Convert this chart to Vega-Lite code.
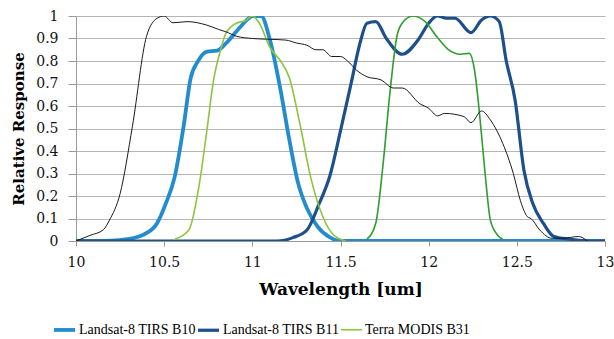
{
  "$schema": "https://vega.github.io/schema/vega-lite/v6.json",
  "width": 529,
  "height": 225,
  "autosize": "none",
  "padding": {"left": 76, "top": 16, "right": 9, "bottom": 98},
  "background": "white",
  "config": {"view": {"stroke": null}, "font": "DejaVu Serif"},
  "data": {"values": [
    {"s":"Landsat-8 TIRS B10","x":10.0,"y":0},{"s":"Landsat-8 TIRS B10","x":10.2,"y":0.002},{"s":"Landsat-8 TIRS B10","x":10.29,"y":0.008},{"s":"Landsat-8 TIRS B10","x":10.38,"y":0.027},{"s":"Landsat-8 TIRS B10","x":10.46,"y":0.079},{"s":"Landsat-8 TIRS B10","x":10.51,"y":0.168},{"s":"Landsat-8 TIRS B10","x":10.56,"y":0.286},{"s":"Landsat-8 TIRS B10","x":10.61,"y":0.508},{"s":"Landsat-8 TIRS B10","x":10.65,"y":0.723},{"s":"Landsat-8 TIRS B10","x":10.69,"y":0.797},{"s":"Landsat-8 TIRS B10","x":10.74,"y":0.841},{"s":"Landsat-8 TIRS B10","x":10.8,"y":0.846},{"s":"Landsat-8 TIRS B10","x":10.85,"y":0.878},{"s":"Landsat-8 TIRS B10","x":10.93,"y":0.95},{"s":"Landsat-8 TIRS B10","x":10.98,"y":0.99},{"s":"Landsat-8 TIRS B10","x":11.0,"y":1.0},{"s":"Landsat-8 TIRS B10","x":11.05,"y":1.0},{"s":"Landsat-8 TIRS B10","x":11.1,"y":0.893},{"s":"Landsat-8 TIRS B10","x":11.16,"y":0.671},{"s":"Landsat-8 TIRS B10","x":11.21,"y":0.449},{"s":"Landsat-8 TIRS B10","x":11.26,"y":0.256},{"s":"Landsat-8 TIRS B10","x":11.31,"y":0.145},{"s":"Landsat-8 TIRS B10","x":11.37,"y":0.064},{"s":"Landsat-8 TIRS B10","x":11.44,"y":0.016},{"s":"Landsat-8 TIRS B10","x":11.5,"y":0},{"s":"Landsat-8 TIRS B10","x":12.0,"y":0},{"s":"Landsat-8 TIRS B10","x":12.5,"y":0},{"s":"Landsat-8 TIRS B10","x":13.0,"y":0},
    {"s":"Landsat-8 TIRS B11","x":10.0,"y":0},{"s":"Landsat-8 TIRS B11","x":10.5,"y":0},{"s":"Landsat-8 TIRS B11","x":11.0,"y":0},{"s":"Landsat-8 TIRS B11","x":11.14,"y":0},{"s":"Landsat-8 TIRS B11","x":11.23,"y":0.015},{"s":"Landsat-8 TIRS B11","x":11.31,"y":0.049},{"s":"Landsat-8 TIRS B11","x":11.38,"y":0.168},{"s":"Landsat-8 TIRS B11","x":11.44,"y":0.29},{"s":"Landsat-8 TIRS B11","x":11.5,"y":0.49},{"s":"Landsat-8 TIRS B11","x":11.56,"y":0.7},{"s":"Landsat-8 TIRS B11","x":11.61,"y":0.878},{"s":"Landsat-8 TIRS B11","x":11.65,"y":0.968},{"s":"Landsat-8 TIRS B11","x":11.7,"y":0.975},{"s":"Landsat-8 TIRS B11","x":11.76,"y":0.9},{"s":"Landsat-8 TIRS B11","x":11.85,"y":0.83},{"s":"Landsat-8 TIRS B11","x":11.94,"y":0.893},{"s":"Landsat-8 TIRS B11","x":12.0,"y":0.968},{"s":"Landsat-8 TIRS B11","x":12.05,"y":1.0},{"s":"Landsat-8 TIRS B11","x":12.1,"y":0.99},{"s":"Landsat-8 TIRS B11","x":12.15,"y":0.99},{"s":"Landsat-8 TIRS B11","x":12.24,"y":0.926},{"s":"Landsat-8 TIRS B11","x":12.3,"y":0.982},{"s":"Landsat-8 TIRS B11","x":12.35,"y":1.0},{"s":"Landsat-8 TIRS B11","x":12.4,"y":0.975},{"s":"Landsat-8 TIRS B11","x":12.44,"y":0.8},{"s":"Landsat-8 TIRS B11","x":12.49,"y":0.627},{"s":"Landsat-8 TIRS B11","x":12.54,"y":0.316},{"s":"Landsat-8 TIRS B11","x":12.59,"y":0.168},{"s":"Landsat-8 TIRS B11","x":12.65,"y":0.079},{"s":"Landsat-8 TIRS B11","x":12.71,"y":0.02},{"s":"Landsat-8 TIRS B11","x":12.8,"y":0.008},{"s":"Landsat-8 TIRS B11","x":12.9,"y":0},{"s":"Landsat-8 TIRS B11","x":13.0,"y":0},
    {"s":"Terra MODIS B31","x":10.56,"y":0.008},{"s":"Terra MODIS B31","x":10.64,"y":0.049},{"s":"Terra MODIS B31","x":10.7,"y":0.256},{"s":"Terra MODIS B31","x":10.74,"y":0.478},{"s":"Terra MODIS B31","x":10.78,"y":0.714},{"s":"Terra MODIS B31","x":10.82,"y":0.849},{"s":"Terra MODIS B31","x":10.85,"y":0.923},{"s":"Terra MODIS B31","x":10.91,"y":0.968},{"s":"Terra MODIS B31","x":10.96,"y":0.979},{"s":"Terra MODIS B31","x":11.0,"y":1.0},{"s":"Terra MODIS B31","x":11.04,"y":0.968},{"s":"Terra MODIS B31","x":11.1,"y":0.86},{"s":"Terra MODIS B31","x":11.16,"y":0.8},{"s":"Terra MODIS B31","x":11.21,"y":0.726},{"s":"Terra MODIS B31","x":11.27,"y":0.52},{"s":"Terra MODIS B31","x":11.33,"y":0.286},{"s":"Terra MODIS B31","x":11.4,"y":0.108},{"s":"Terra MODIS B31","x":11.46,"y":0.027},{"s":"Terra MODIS B31","x":11.53,"y":0},
    {"s":"Terra MODIS B32","x":11.65,"y":0.008},{"s":"Terra MODIS B32","x":11.7,"y":0.079},{"s":"Terra MODIS B32","x":11.74,"y":0.33},{"s":"Terra MODIS B32","x":11.78,"y":0.656},{"s":"Terra MODIS B32","x":11.82,"y":0.91},{"s":"Terra MODIS B32","x":11.85,"y":0.968},{"s":"Terra MODIS B32","x":11.91,"y":1.0},{"s":"Terra MODIS B32","x":11.98,"y":0.975},{"s":"Terra MODIS B32","x":12.05,"y":0.904},{"s":"Terra MODIS B32","x":12.11,"y":0.852},{"s":"Terra MODIS B32","x":12.18,"y":0.83},{"s":"Terra MODIS B32","x":12.23,"y":0.834},{"s":"Terra MODIS B32","x":12.26,"y":0.76},{"s":"Terra MODIS B32","x":12.29,"y":0.553},{"s":"Terra MODIS B32","x":12.32,"y":0.3},{"s":"Terra MODIS B32","x":12.35,"y":0.093},{"s":"Terra MODIS B32","x":12.39,"y":0.027},{"s":"Terra MODIS B32","x":12.42,"y":0.008},
    {"s":"Transmittance","x":10.0,"y":0},{"s":"Transmittance","x":10.08,"y":0.025},{"s":"Transmittance","x":10.155,"y":0.05},{"s":"Transmittance","x":10.19,"y":0.093},{"s":"Transmittance","x":10.25,"y":0.21},{"s":"Transmittance","x":10.32,"y":0.51},{"s":"Transmittance","x":10.4,"y":0.91},{"s":"Transmittance","x":10.46,"y":0.99},{"s":"Transmittance","x":10.5,"y":1.0},{"s":"Transmittance","x":10.55,"y":0.97},{"s":"Transmittance","x":10.63,"y":0.975},{"s":"Transmittance","x":10.74,"y":0.96},{"s":"Transmittance","x":10.81,"y":0.94},{"s":"Transmittance","x":10.85,"y":0.93},{"s":"Transmittance","x":10.91,"y":0.91},{"s":"Transmittance","x":11.0,"y":0.9},{"s":"Transmittance","x":11.08,"y":0.897},{"s":"Transmittance","x":11.19,"y":0.893},{"s":"Transmittance","x":11.25,"y":0.88},{"s":"Transmittance","x":11.31,"y":0.87},{"s":"Transmittance","x":11.36,"y":0.85},{"s":"Transmittance","x":11.4,"y":0.85},{"s":"Transmittance","x":11.45,"y":0.82},{"s":"Transmittance","x":11.5,"y":0.82},{"s":"Transmittance","x":11.54,"y":0.8},{"s":"Transmittance","x":11.59,"y":0.76},{"s":"Transmittance","x":11.65,"y":0.73},{"s":"Transmittance","x":11.73,"y":0.716},{"s":"Transmittance","x":11.8,"y":0.68},{"s":"Transmittance","x":11.85,"y":0.68},{"s":"Transmittance","x":11.95,"y":0.61},{"s":"Transmittance","x":12.0,"y":0.59},{"s":"Transmittance","x":12.05,"y":0.556},{"s":"Transmittance","x":12.09,"y":0.567},{"s":"Transmittance","x":12.2,"y":0.553},{"s":"Transmittance","x":12.24,"y":0.526},{"s":"Transmittance","x":12.3,"y":0.578},{"s":"Transmittance","x":12.35,"y":0.538},{"s":"Transmittance","x":12.42,"y":0.434},{"s":"Transmittance","x":12.48,"y":0.3},{"s":"Transmittance","x":12.52,"y":0.18},{"s":"Transmittance","x":12.56,"y":0.108},{"s":"Transmittance","x":12.58,"y":0.1},{"s":"Transmittance","x":12.63,"y":0.049},{"s":"Transmittance","x":12.7,"y":0.012},{"s":"Transmittance","x":12.76,"y":0.012},{"s":"Transmittance","x":12.85,"y":0.02},{"s":"Transmittance","x":12.9,"y":0}
  ]},
  "mark": {"type": "line", "interpolate": "monotone", "clip": true},
  "encoding": {
    "x": {"field": "x", "type": "quantitative",
      "scale": {"domain": [10, 13], "nice": false, "zero": false},
      "axis": {"values": [10, 10.5, 11, 11.5, 12, 12.5, 13], "format": "~g", "grid": false,
        "title": "Wavelength [um]", "titleFont": "DejaVu Serif", "titleFontSize": 17, "titleFontWeight": "bold", "titleColor": "#000", "titlePadding": 12,
        "labelFontSize": 14, "labelFont": "DejaVu Serif", "labelColor": "#111", "labelPadding": 9,
        "domainColor": "#999", "tickColor": "#999", "tickSize": 5, "labelFlush": false}},
    "y": {"field": "y", "type": "quantitative",
      "scale": {"domain": [0, 1], "nice": false},
      "axis": {"values": [0, 0.1, 0.2, 0.3, 0.4, 0.5, 0.6, 0.7, 0.8, 0.9, 1], "format": ".1~f",
        "grid": true, "gridColor": "#b5b5b5", "gridWidth": 1,
        "title": "Relative Response", "titleFont": "DejaVu Serif", "titleFontSize": 15, "titleFontWeight": "bold", "titleColor": "#000", "titlePadding": 9,
        "labelFontSize": 14, "labelFont": "DejaVu Serif", "labelColor": "#111", "labelPadding": 10,
        "domainColor": "#999", "tickColor": "#999", "tickSize": 8, "labelFlush": false}},
    "color": {"field": "s", "type": "nominal",
      "scale": {"domain": ["Landsat-8 TIRS B10", "Landsat-8 TIRS B11", "Terra MODIS B31", "Terra MODIS B32", "Transmittance"],
        "range": ["#238ccf", "#1c4f8c", "#8cc63f", "#2e9e2e", "#1a1a1a"]},
      "legend": {"values": ["Landsat-8 TIRS B10", "Landsat-8 TIRS B11", "Terra MODIS B31"],
        "title": null, "orient": "none", "legendX": -24, "legendY": 301, "direction": "horizontal",
        "symbolType": "stroke", "symbolSize": 441, "symbolStrokeWidth": 3,
        "labelFont": "Liberation Serif", "labelFontSize": 14, "labelColor": "#000", "labelOffset": 2, "columnPadding": -16,
        "encode": {"symbols": {"update": {"strokeWidth": {"signal": "datum.value === 'Terra MODIS B31' ? 1.6 : 3.5"}}}}}},
    "strokeWidth": {"field": "s", "type": "nominal",
      "scale": {"type": "ordinal", "domain": ["Landsat-8 TIRS B10", "Landsat-8 TIRS B11", "Terra MODIS B31", "Terra MODIS B32", "Transmittance"],
        "range": [3.8, 3.2, 1.6, 1.6, 1]},
      "legend": null}
  }
}
